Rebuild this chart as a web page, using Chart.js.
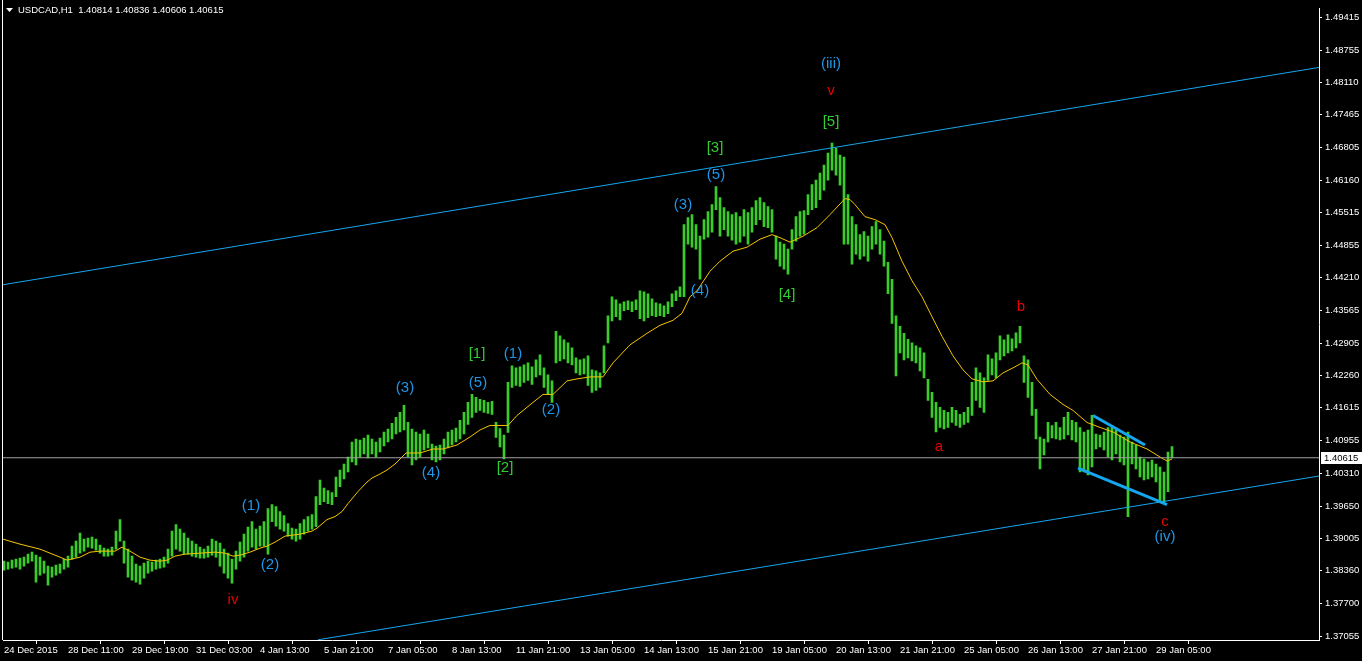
<!DOCTYPE html>
<html>
<head>
<meta charset="utf-8">
<script src="https://cdn.jsdelivr.net/npm/chart.js@4.4.1/dist/chart.umd.min.js"></script>
<style>
  html, body { margin: 0; padding: 0; background: #000; overflow: hidden; }
  canvas { display: block; }
</style>
</head>
<body>
<canvas id="usdcad" width="1362" height="661"></canvas>
<script>
// USDCAD H1 - one entry every 2 hours
const barHighs = [
  1.3855,1.3853,1.3857,1.3859,1.3861,1.3863,1.3869,1.3873,1.3867,1.3863,
  1.3855,1.3845,1.3843,1.3847,1.3849,1.3859,1.3865,1.3885,1.3895,1.3911,
  1.3899,1.3901,1.3903,1.3899,1.3887,1.3881,1.3879,1.3883,1.3915,1.3938,
  1.3895,1.3879,1.3865,1.3849,1.3845,1.3851,1.3855,1.3853,1.3857,1.3859,
  1.3863,1.3879,1.3915,1.3928,1.3919,1.3911,1.3901,1.3895,1.3889,1.3883,
  1.3879,1.3885,1.3899,1.3895,1.3891,1.3879,1.3871,1.3859,1.3875,1.3893,
  1.3909,1.3923,1.3934,1.3919,1.3925,1.3934,1.3960,1.3968,1.3964,1.3954,
  1.3946,1.3930,1.3921,1.3919,1.3930,1.3938,1.3944,1.3948,1.3984,1.4017,
  1.4001,1.3996,1.3992,1.4023,1.4037,1.4049,1.4063,1.4093,1.4099,1.4097,
  1.4101,1.4107,1.4099,1.4093,1.4101,1.4113,1.4119,1.4130,1.4142,1.4152,
  1.4166,1.4132,1.4119,1.4113,1.4109,1.4117,1.4109,1.4089,1.4085,1.4087,
  1.4099,1.4113,1.4117,1.4121,1.4136,1.4152,1.4172,1.4188,1.4182,1.4178,
  1.4176,1.4172,1.4174,1.4132,1.4120,1.4107,1.4212,1.4245,1.4241,1.4243,
  1.4247,1.4251,1.4243,1.4257,1.4267,1.4241,1.4227,1.4215,1.4314,1.4305,
  1.4297,1.4291,1.4281,1.4261,1.4257,1.4259,1.4265,1.4237,1.4235,1.4231,
  1.4285,1.4345,1.4383,1.4377,1.4369,1.4373,1.4375,1.4373,1.4377,1.4395,
  1.4393,1.4389,1.4379,1.4371,1.4369,1.4365,1.4373,1.4389,1.4395,1.4403,
  1.4527,1.4541,1.4547,1.4527,1.4504,1.4537,1.4553,1.4567,1.4603,1.4581,
  1.4561,1.4553,1.4547,1.4551,1.4543,1.4557,1.4551,1.4561,1.4575,1.4581,
  1.4571,1.4563,1.4557,1.4504,1.4492,1.4488,1.4478,1.4517,1.4543,1.4553,
  1.4555,1.4587,1.4607,1.4616,1.4630,1.4646,1.4670,1.4690,1.4680,1.4666,
  1.4662,1.4587,1.4543,1.4527,1.4507,1.4513,1.4504,1.4523,1.4533,1.4517,
  1.4494,1.4452,1.4418,1.4345,1.4324,1.4310,1.4298,1.4291,1.4285,1.4281,
  1.4271,1.4218,1.4192,1.4172,1.4162,1.4156,1.4152,1.4162,1.4156,1.4148,
  1.4152,1.4162,1.4212,1.4241,1.4231,1.4221,1.4267,1.4259,1.4271,1.4305,
  1.4297,1.4307,1.4299,1.4311,1.4324,1.4265,1.4257,1.4212,1.4158,1.4103,
  1.4099,1.4132,1.4126,1.4132,1.4122,1.4142,1.4152,1.4136,1.4132,1.4122,
  1.4113,1.4117,1.4146,1.4109,1.4107,1.4113,1.4122,1.4126,1.4117,1.4107,
  1.4103,1.4113,1.4093,1.4087,1.4063,1.4059,1.4053,1.4057,1.4049,1.4043,
  1.4033,1.4073,1.4084
];
const barLows = [
  1.3837,1.3839,1.3841,1.3843,1.3839,1.3845,1.3851,1.3855,1.3813,1.3827,
  1.3831,1.3807,1.3823,1.3827,1.3831,1.3839,1.3843,1.3859,1.3863,1.3871,
  1.3875,1.3883,1.3881,1.3877,1.3871,1.3865,1.3865,1.3867,1.3879,1.3895,
  1.3851,1.3823,1.3817,1.3813,1.3809,1.3821,1.3831,1.3835,1.3839,1.3841,
  1.3843,1.3851,1.3865,1.3879,1.3875,1.3869,1.3869,1.3865,1.3863,1.3861,
  1.3861,1.3863,1.3867,1.3863,1.3845,1.3831,1.3821,1.3811,1.3839,1.3855,
  1.3863,1.3875,1.3883,1.3879,1.3885,1.3885,1.3869,1.3934,1.3925,1.3919,
  1.3915,1.3905,1.3899,1.3895,1.3899,1.3909,1.3915,1.3919,1.3924,1.3968,
  1.3974,1.3970,1.3968,1.3984,1.4004,1.4019,1.4033,1.4053,1.4047,1.4063,
  1.4069,1.4061,1.4069,1.4063,1.4073,1.4085,1.4093,1.4099,1.4109,1.4113,
  1.4117,1.4063,1.4047,1.4057,1.4063,1.4077,1.4081,1.4057,1.4053,1.4057,
  1.4069,1.4081,1.4087,1.4093,1.4099,1.4109,1.4128,1.4142,1.4152,1.4156,
  1.4152,1.4150,1.4148,1.4102,1.4083,1.4059,1.4112,1.4202,1.4206,1.4204,
  1.4212,1.4216,1.4208,1.4223,1.4227,1.4202,1.4188,1.4172,1.4251,1.4255,
  1.4259,1.4251,1.4247,1.4231,1.4227,1.4229,1.4206,1.4192,1.4196,1.4202,
  1.4231,1.4291,1.4335,1.4343,1.4337,1.4355,1.4357,1.4353,1.4357,1.4339,
  1.4335,1.4341,1.4345,1.4343,1.4345,1.4343,1.4349,1.4363,1.4375,1.4383,
  1.4383,1.4488,1.4482,1.4478,1.4418,1.4498,1.4502,1.4512,1.4557,1.4504,
  1.4517,1.4504,1.4496,1.4488,1.4492,1.4504,1.4488,1.4512,1.4527,1.4537,
  1.4523,1.4521,1.4512,1.4458,1.4444,1.4438,1.4428,1.4478,1.4494,1.4504,
  1.4508,1.4547,1.4557,1.4561,1.4577,1.4596,1.4616,1.4636,1.4626,1.4606,
  1.4488,1.4488,1.4448,1.4468,1.4458,1.4464,1.4454,1.4478,1.4488,1.4468,
  1.4444,1.4389,1.4330,1.4225,1.4271,1.4257,1.4261,1.4255,1.4251,1.4235,
  1.4221,1.4176,1.4142,1.4113,1.4122,1.4119,1.4122,1.4132,1.4126,1.4122,
  1.4128,1.4132,1.4146,1.4176,1.4162,1.4152,1.4216,1.4227,1.4221,1.4257,
  1.4265,1.4271,1.4275,1.4281,1.4291,1.4212,1.4182,1.4146,1.4099,1.4039,
  1.4067,1.4093,1.4101,1.4099,1.4097,1.4099,1.4107,1.4097,1.4093,1.4033,
  1.4033,1.4027,1.4043,1.4079,1.4083,1.4077,1.4063,1.4057,1.4069,1.4053,
  1.4047,1.3944,1.4049,1.4039,1.4023,1.4017,1.4019,1.4023,1.4013,1.3974,
  1.3970,1.3994,1.4061
];

// moving average (yellow), hours from the first bar
const maHours = [
  -0.5, 8, 18, 28, 31.5, 38, 43, 48, 55.5, 59, 63, 68, 73, 78, 81.5, 85.5, 90.5, 98,
  105.5, 110.5, 114.5, 118, 123, 128, 131.5, 135.5, 140.5, 148, 154, 156.5, 161.5,
  165.5, 169, 172, 177, 181.5, 184, 188, 191.5, 195.5, 201, 208, 214.5, 219.5, 226.5,
  233, 238, 243, 252, 256.5, 264.5, 269.5, 274.5, 281.5, 286.5, 293, 299.5, 304.5,
  313, 321.5, 328, 334.5, 339, 343, 346.5, 353, 358, 364.5, 371.5, 378, 384, 388,
  393, 399.5, 406.5, 413, 420.5, 423, 425.5, 430.5, 435.5, 440.5, 444, 449, 454,
  459, 464, 469, 474.5, 479.5, 484, 489.5, 494.5, 499.5, 504.5, 509, 512, 516.5,
  523, 529.5, 534.5, 541.5, 548, 554.5, 563, 571.5, 578, 581.5, 584
];
const maValues = [
  1.3899, 1.3889, 1.3879, 1.3863, 1.3857, 1.3863, 1.3873, 1.3875, 1.3875, 1.3883, 1.3875,
  1.3863, 1.3857, 1.3855, 1.3857, 1.3865, 1.3869, 1.3871, 1.3873, 1.3871, 1.3865, 1.3867,
  1.3873, 1.3881, 1.3885, 1.3893, 1.3905, 1.3909, 1.3915, 1.3921, 1.3938, 1.3944, 1.3954,
  1.3970, 1.3994, 1.4013, 1.4021, 1.4029, 1.4037, 1.4049, 1.4071, 1.4071, 1.4079, 1.4079,
  1.4087, 1.4103, 1.4117, 1.4126, 1.4126, 1.4146, 1.4172, 1.4188, 1.4188, 1.4215, 1.4219,
  1.4223, 1.4223, 1.4251, 1.4287, 1.4310, 1.4326, 1.4336, 1.4350, 1.4383, 1.4395, 1.4434,
  1.4454, 1.4474, 1.4482, 1.4498, 1.4507, 1.4501, 1.4492, 1.4504, 1.4521, 1.4547, 1.4579,
  1.4577, 1.4567, 1.4543, 1.4537, 1.4527, 1.4501, 1.4454, 1.4415, 1.4383, 1.4343, 1.4304,
  1.4265, 1.4237, 1.4219, 1.4213, 1.4215, 1.4231, 1.4241, 1.4251, 1.4247, 1.4218, 1.4188,
  1.4168, 1.4156, 1.4132, 1.4122, 1.4113, 1.4093, 1.4079, 1.4063, 1.4055, 1.4059
];

// trend lines: [hourStart, priceStart, hourEnd, priceEnd]
const upperChannel = [-0.5, 1.4407, 657.5, 1.4841];
const lowerChannel = [157, 1.3698, 657.5, 1.4025];
const wedgeTop = [544.5, 1.4146, 570.5, 1.4087];
const wedgeBottom = [537, 1.4041, 581.5, 1.3968];

const currentPrice = 1.40615;

const priceTicks = [1.49415, 1.48755, 1.48110, 1.47465, 1.46805, 1.46160, 1.45515, 1.44855,
  1.44210, 1.43565, 1.42905, 1.42260, 1.41615, 1.40955, 1.40310, 1.39650, 1.39005,
  1.38360, 1.37700, 1.37055];
const timeTickHours = [0, 32, 64, 96, 128, 160, 192, 224, 256, 288, 320, 352, 384, 416,
  448, 480, 512, 544, 576];
const timeTickLabels = ['24 Dec 2015', '28 Dec 11:00', '29 Dec 19:00', '31 Dec 03:00',
  '4 Jan 13:00', '5 Jan 21:00', '7 Jan 05:00', '8 Jan 13:00', '11 Jan 21:00', '13 Jan 05:00',
  '14 Jan 13:00', '15 Jan 21:00', '19 Jan 05:00', '20 Jan 13:00', '21 Jan 21:00',
  '25 Jan 05:00', '26 Jan 13:00', '27 Jan 21:00', '29 Jan 05:00'];

// Elliott wave marks
const waveText  = ['iv', '(1)', '(2)', '(3)', '(4)', '(5)', '[1]', '[2]', '(1)', '(2)',
  '(3)', '(4)', '(5)', '[3]', '[4]', '(iii)', 'v', '[5]', 'a', 'b', 'c', '(iv)'];
const waveHour  = [114.5, 123.5, 133, 200.5, 213.5, 237, 236.5, 250.5, 254.5, 273.5,
  339.5, 348, 356, 355.5, 391.5, 413.5, 413.5, 413.5, 467.5, 508.5, 580.5, 580.5];
const wavePrice = [1.3777, 1.3966, 1.3847, 1.4202, 1.4031, 1.4212, 1.4269, 1.4041, 1.4269,
  1.4158, 1.4567, 1.4395, 1.4626, 1.4680, 1.4387, 1.4848, 1.4794, 1.4733, 1.4083, 1.4363,
  1.3933, 1.3903];
const waveKind  = ['r', 'b', 'b', 'b', 'b', 'b', 'g', 'g', 'b', 'b',
  'b', 'b', 'b', 'g', 'g', 'b', 'r', 'g', 'r', 'r', 'r', 'b'];
const waveColors = { r: '#e60000', b: '#1e96e8', g: '#32cd32' };

const FONT = "'Liberation Sans', Arial, sans-serif";
Chart.defaults.font.family = FONT;
Chart.defaults.font.size = 9.5;
Chart.defaults.color = '#ffffff';

function segment(s) {
  return [{ x: s[0], y: s[1] }, { x: s[2], y: s[3] }];
}

const overlay = {
  id: 'overlay',
  afterDatasetsDraw(chart) {
    const { ctx, scales: { x, y } } = chart;
    ctx.save();
    ctx.font = '15px ' + FONT;
    ctx.textAlign = 'center';
    ctx.textBaseline = 'middle';
    waveText.forEach((t, i) => {
      ctx.fillStyle = waveColors[waveKind[i]];
      ctx.fillText(t, x.getPixelForValue(waveHour[i]), y.getPixelForValue(wavePrice[i]));
    });
    ctx.restore();
  },
  afterDraw(chart) {
    const { ctx, chartArea, scales: { y } } = chart;
    ctx.save();
    // left frame line
    ctx.strokeStyle = '#ffffff';
    ctx.lineWidth = 1;
    ctx.beginPath();
    ctx.moveTo(2.5, 0);
    ctx.lineTo(2.5, chartArea.bottom);
    ctx.stroke();

    // title
    ctx.fillStyle = '#ffffff';
    ctx.beginPath();
    ctx.moveTo(6, 8);
    ctx.lineTo(13, 8);
    ctx.lineTo(9.5, 12);
    ctx.closePath();
    ctx.fill();
    ctx.font = '9.5px ' + FONT;
    ctx.textBaseline = 'middle';
    ctx.textAlign = 'left';
    ctx.fillText('USDCAD,H1  1.40814 1.40836 1.40606 1.40615', 18, 10.5);

    // current price box
    const py = Math.round(y.getPixelForValue(currentPrice));
    ctx.fillStyle = '#ffffff';
    ctx.fillRect(chartArea.right + 2, py - 6, 41, 12);
    ctx.fillStyle = '#000000';
    ctx.fillText(currentPrice.toFixed(5), chartArea.right + 5, py + 0.5);
    ctx.restore();
  }
};

const ctx = document.getElementById('usdcad').getContext('2d');
const usdcadChart = new Chart(ctx, {
  type: 'bar',
  data: {
    datasets: [
      {
        label: 'USDCAD',
        data: barHighs.map((h, i) => ({ x: i * 2, y: [barLows[i], h] })),
        backgroundColor: '#3acd2a',
        borderWidth: 0,
        barThickness: 2,
        grouped: false,
        order: 10
      },
      {
        type: 'line',
        label: 'MA',
        data: maHours.map((h, i) => ({ x: h, y: maValues[i] })),
        borderColor: '#f5c400',
        borderWidth: 1,
        pointRadius: 0,
        tension: 0,
        order: 3
      },
      {
        type: 'line',
        label: 'Bid',
        data: [{ x: -0.5, y: currentPrice }, { x: 657.5, y: currentPrice }],
        borderColor: '#a0a0a0',
        borderWidth: 1,
        pointRadius: 0,
        order: 2
      },
      {
        type: 'line',
        data: segment(upperChannel),
        borderColor: '#16a6ee',
        borderWidth: 1,
        pointRadius: 0,
        order: 1
      },
      {
        type: 'line',
        data: segment(lowerChannel),
        borderColor: '#16a6ee',
        borderWidth: 1,
        pointRadius: 0,
        order: 1
      },
      {
        type: 'line',
        data: segment(wedgeTop),
        borderColor: '#16a6ee',
        borderWidth: 3,
        pointRadius: 0,
        order: 1
      },
      {
        type: 'line',
        data: segment(wedgeBottom),
        borderColor: '#16a6ee',
        borderWidth: 3,
        pointRadius: 0,
        order: 1
      }
    ]
  },
  options: {
    responsive: false,
    animation: false,
    devicePixelRatio: 1,
    layout: { padding: { left: 3, top: 2, right: 0, bottom: 0 } },
    plugins: {
      legend: { display: false },
      tooltip: { enabled: false }
    },
    scales: {
      x: {
        type: 'linear',
        min: -0.5,
        max: 657.5,
        offset: false,
        grid: { drawOnChartArea: false, drawTicks: true, tickLength: 4, color: '#ffffff' },
        border: { display: true, color: '#ffffff' },
        ticks: {
          align: 'start',
          maxRotation: 0,
          autoSkip: false,
          padding: 1,
          color: '#ffffff',
          callback: (v, i) => timeTickLabels[i]
        },
        afterBuildTicks: s => { s.ticks = timeTickHours.map(v => ({ value: v })); },
        afterFit: s => { s.height = 21; }
      },
      y: {
        position: 'right',
        min: 1.369756,
        max: 1.495825,
        grid: { drawOnChartArea: false, drawTicks: true, tickLength: 3, color: '#ffffff' },
        border: { display: true, color: '#ffffff' },
        ticks: {
          padding: 3,
          color: '#ffffff',
          callback: v => v.toFixed(5)
        },
        afterBuildTicks: s => { s.ticks = priceTicks.map(v => ({ value: v })); },
        afterFit: s => { s.width = 43; }
      }
    }
  },
  plugins: [overlay]
});
</script>
</body>
</html>
